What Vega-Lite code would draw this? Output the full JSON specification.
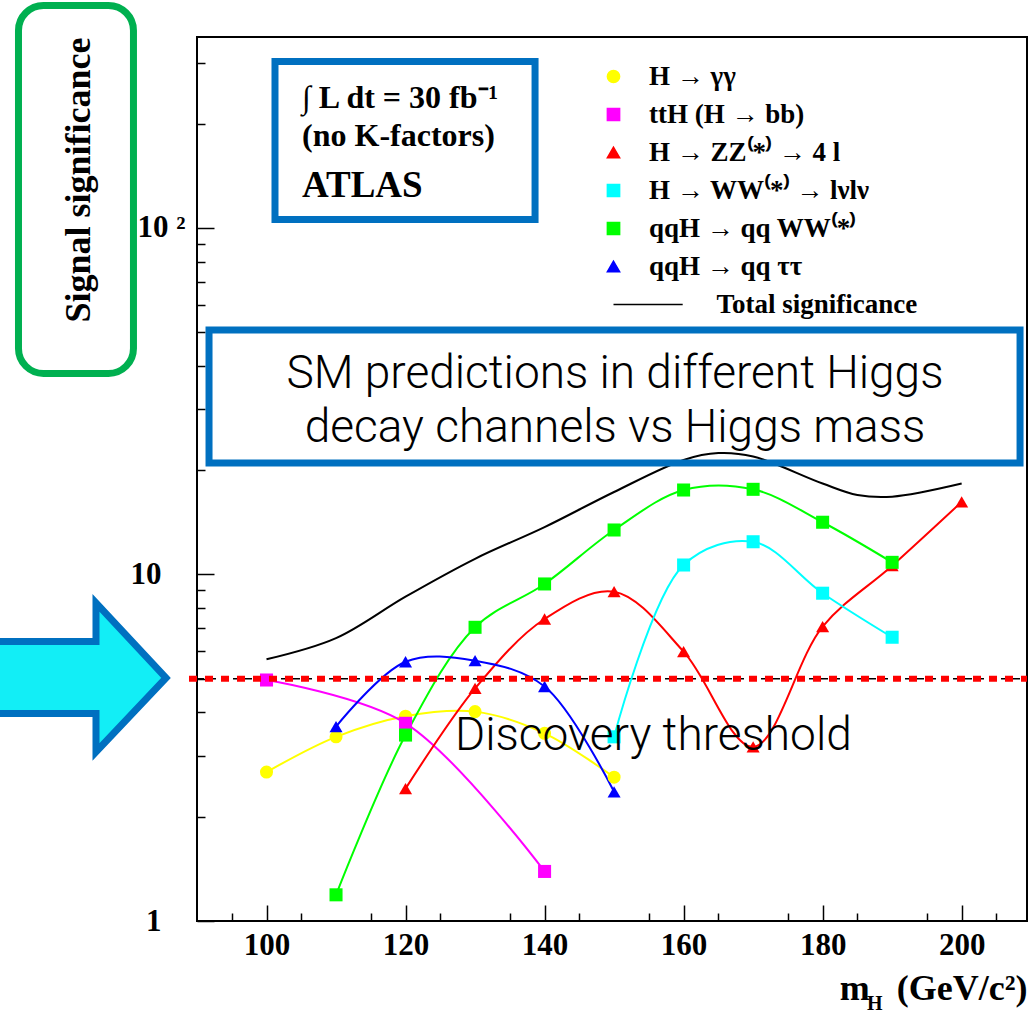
{
  "$schema": "https://vega.github.io/schema/vega-lite/v6.json",
  "autosize": {"type": "none"},
  "padding": {"left": 197, "top": 37, "right": 5, "bottom": 92},
  "width": 830,
  "height": 884,
  "background": "white",
  "config": {"view": {"stroke": "black", "strokeWidth": 2}, "font": "Liberation Serif"},
  "datasets": {
    "series": [
      {"channel": "H → γγ", "mass": 100, "sig": 2.69},
      {"channel": "H → γγ", "mass": 110, "sig": 3.40},
      {"channel": "H → γγ", "mass": 120, "sig": 3.90},
      {"channel": "H → γγ", "mass": 130, "sig": 4.02},
      {"channel": "H → γγ", "mass": 140, "sig": 3.48},
      {"channel": "H → γγ", "mass": 150, "sig": 2.60},
      {"channel": "ttH (H → bb)", "mass": 100, "sig": 4.96},
      {"channel": "ttH (H → bb)", "mass": 120, "sig": 3.72},
      {"channel": "ttH (H → bb)", "mass": 140, "sig": 1.39},
      {"channel": "H → ZZ⁽*⁾ → 4 l", "mass": 120, "sig": 2.41},
      {"channel": "H → ZZ⁽*⁾ → 4 l", "mass": 130, "sig": 4.69},
      {"channel": "H → ZZ⁽*⁾ → 4 l", "mass": 140, "sig": 7.44},
      {"channel": "H → ZZ⁽*⁾ → 4 l", "mass": 150, "sig": 8.92},
      {"channel": "H → ZZ⁽*⁾ → 4 l", "mass": 160, "sig": 5.99},
      {"channel": "H → ZZ⁽*⁾ → 4 l", "mass": 170, "sig": 3.18},
      {"channel": "H → ZZ⁽*⁾ → 4 l", "mass": 180, "sig": 7.07},
      {"channel": "H → ZZ⁽*⁾ → 4 l", "mass": 190, "sig": 10.6},
      {"channel": "H → ZZ⁽*⁾ → 4 l", "mass": 200, "sig": 16.2},
      {"channel": "H → WW⁽*⁾ → lνlν", "mass": 150, "sig": 3.40},
      {"channel": "H → WW⁽*⁾ → lνlν", "mass": 160, "sig": 10.65},
      {"channel": "H → WW⁽*⁾ → lνlν", "mass": 170, "sig": 12.43},
      {"channel": "H → WW⁽*⁾ → lνlν", "mass": 180, "sig": 8.83},
      {"channel": "H → WW⁽*⁾ → lνlν", "mass": 190, "sig": 6.59},
      {"channel": "qqH → qq WW⁽*⁾", "mass": 110, "sig": 1.19},
      {"channel": "qqH → qq WW⁽*⁾", "mass": 120, "sig": 3.44},
      {"channel": "qqH → qq WW⁽*⁾", "mass": 130, "sig": 7.04},
      {"channel": "qqH → qq WW⁽*⁾", "mass": 140, "sig": 9.39},
      {"channel": "qqH → qq WW⁽*⁾", "mass": 150, "sig": 13.44},
      {"channel": "qqH → qq WW⁽*⁾", "mass": 160, "sig": 17.53},
      {"channel": "qqH → qq WW⁽*⁾", "mass": 170, "sig": 17.61},
      {"channel": "qqH → qq WW⁽*⁾", "mass": 180, "sig": 14.15},
      {"channel": "qqH → qq WW⁽*⁾", "mass": 190, "sig": 10.84},
      {"channel": "qqH → qq ττ", "mass": 110, "sig": 3.64},
      {"channel": "qqH → qq ττ", "mass": 120, "sig": 5.60},
      {"channel": "qqH → qq ττ", "mass": 130, "sig": 5.64},
      {"channel": "qqH → qq ττ", "mass": 140, "sig": 4.75},
      {"channel": "qqH → qq ττ", "mass": 150, "sig": 2.36},
      {"channel": "Total significance", "mass": 100, "sig": 5.69},
      {"channel": "Total significance", "mass": 110, "sig": 6.55},
      {"channel": "Total significance", "mass": 120, "sig": 8.63},
      {"channel": "Total significance", "mass": 130, "sig": 11.1},
      {"channel": "Total significance", "mass": 140, "sig": 13.7},
      {"channel": "Total significance", "mass": 150, "sig": 17.3},
      {"channel": "Total significance", "mass": 160, "sig": 21.4},
      {"channel": "Total significance", "mass": 165, "sig": 22.4},
      {"channel": "Total significance", "mass": 170, "sig": 21.9},
      {"channel": "Total significance", "mass": 180, "sig": 18.3},
      {"channel": "Total significance", "mass": 185, "sig": 16.96},
      {"channel": "Total significance", "mass": 190, "sig": 16.77},
      {"channel": "Total significance", "mass": 200, "sig": 18.3}
    ],
    "threshold": [{"mass": 88.85, "mass_end": 209.4, "sig": 5}],
    "baseline5": [{"mass": 90, "mass_end": 209.4, "sig": 5}],
    "title_box": [{"mass": 64.32, "mass_end": 80.86, "sig": 438.8, "sig_end": 38.03}],
    "blue_boxes": [
      {"mass": 101.22, "mass_end": 138.63, "sig": 302.3, "sig_end": 105.8},
      {"mass": 91.73, "mass_end": 208.40, "sig": 50.76, "sig_end": 20.98}
    ],
    "arrow": [{"mass": 85.54, "sig": 5.03}],
    "atlas_text": [
      {"mass": 105.11, "sig": 221.9, "label": "∫ L dt = 30 fb⁻¹"},
      {"mass": 105.11, "sig": 172.5, "label": "(no K-factors)"}
    ],
    "atlas_title": [{"mass": 105.11, "sig": 122.9, "label": "ATLAS"}],
    "sm_text": [
      {"mass": 150.13, "sig": 34.52, "label": "SM predictions in different Higgs"},
      {"mass": 150.13, "sig": 24.12, "label": "decay channels vs Higgs mass"}
    ],
    "discovery": [{"mass": 127.12, "sig": 3.115, "label": "Discovery threshold"}],
    "subscript": [{"mass": 186.4, "sig": 0.553, "label": "H"}]
  },
  "layer": [
    {
      "data": {"name": "baseline5"},
      "mark": {"type": "rule", "color": "black", "strokeWidth": 1.5, "strokeDash": [7, 5]},
      "encoding": {
        "x": {"field": "mass", "type": "quantitative", "scale": {"domain": [90, 209.4], "nice": false, "zero": false}, "axis": null},
        "y": {"field": "sig", "type": "quantitative", "scale": {"type": "log", "domain": [1, 355.7], "nice": false}, "axis": null},
        "x2": {"field": "mass_end"}}
    },
    {
      "data": {"name": "series"},
      "mark": {"type": "line", "interpolate": "catmull-rom", "strokeWidth": 2},
      "encoding": {
        "x": {"field": "mass", "type": "quantitative", "scale": {"domain": [90, 209.4], "nice": false, "zero": false},
          "axis": {"orient": "bottom", "values": [100, 120, 140, 160, 180, 200], "format": "d", "tickSize": -16, "tickWidth": 1.5, "tickColor": "black", "domain": false, "grid": false,
            "labelFont": "Liberation Serif", "labelFontWeight": "bold", "labelFontSize": 31, "labelColor": "black", "labelPadding": 25, "labelFlush": false, "labelOverlap": false,
            "title": "m\u00a0\u00a0\u00a0(GeV/c²)", "titleFont": "Liberation Serif", "titleFontWeight": "bold", "titleFontSize": 36, "titleColor": "black", "titleAnchor": "end", "titlePadding": 11}},
        "y": {"field": "sig", "type": "quantitative", "scale": {"type": "log", "domain": [1, 355.7], "nice": false},
          "axis": {"orient": "left", "values": [1, 10, 100], "tickSize": -17, "tickWidth": 1.5, "tickColor": "black", "domain": false, "grid": false,
            "labelExpr": "datum.value >= 100 ? '10 ²' : (datum.value >= 10 ? '10' : '1')",
            "labelAlign": {"condition": {"test": "datum.value >= 100", "value": "center"}, "value": "right"},
            "labelBaseline": "middle",
            "labelFont": "Liberation Serif", "labelFontWeight": "bold", "labelFontSize": 31, "labelColor": "black", "labelPadding": 53, "labelFlush": false, "labelOverlap": false,
            "title": "Signal significance", "titleFont": "Liberation Serif", "titleFontWeight": "bold", "titleFontSize": 36, "titleColor": "black", "titleAnchor": "end", "titlePadding": 33}},
        "color": {"field": "channel", "type": "nominal",
          "scale": {"domain": ["H → γγ", "ttH (H → bb)", "H → ZZ⁽*⁾ → 4 l", "H → WW⁽*⁾ → lνlν", "qqH → qq WW⁽*⁾", "qqH → qq ττ", "Total significance"],
            "range": ["#FFFF00", "#FF00FF", "#FF0000", "#00FFFF", "#00FF00", "#0000FF", "#000000"]},
          "legend": {"title": null, "orient": "none", "legendX": 403, "legendY": 26, "padding": 0,
            "labelFont": "Liberation Serif", "labelFontWeight": "bold", "labelFontSize": 27, "labelColor": "black", "labelLimit": 500,
            "symbolSize": 150, "symbolOpacity": 1, "labelOffset": 22, "rowPadding": 10,
            "labelExpr": "datum.label == 'Total significance' ? '\u200b\u00a0\u00a0\u00a0\u00a0\u00a0\u00a0\u00a0\u00a0\u00a0\u00a0Total significance' : datum.label"}},
        "shape": {"field": "channel", "type": "nominal",
          "scale": {"domain": ["H → γγ", "ttH (H → bb)", "H → ZZ⁽*⁾ → 4 l", "H → WW⁽*⁾ → lνlν", "qqH → qq WW⁽*⁾", "qqH → qq ττ", "Total significance"],
            "range": ["circle", "square", "triangle-up", "square", "square", "triangle-up", "M0,0L11.3,0"]},
          "legend": {"title": null, "orient": "none", "legendX": 403, "legendY": 26, "padding": 0,
            "labelFont": "Liberation Serif", "labelFontWeight": "bold", "labelFontSize": 27, "labelColor": "black", "labelLimit": 500,
            "symbolSize": 150, "symbolOpacity": 1, "labelOffset": 22, "rowPadding": 10,
            "labelExpr": "datum.label == 'Total significance' ? '\u200b\u00a0\u00a0\u00a0\u00a0\u00a0\u00a0\u00a0\u00a0\u00a0\u00a0Total significance' : datum.label"}}
      }
    },
    {
      "data": {"name": "series"},
      "transform": [{"filter": "datum.channel != 'Total significance'"}],
      "mark": {"type": "point", "filled": true, "opacity": 1, "size": 170},
      "encoding": {
        "x": {"field": "mass", "type": "quantitative", "scale": {"domain": [90, 209.4], "nice": false, "zero": false},
          "axis": {"orient": "bottom", "values": [95, 105, 115, 125, 135, 145, 155, 165, 175, 185, 195, 205], "tickSize": -8, "tickWidth": 1.5, "tickColor": "black", "domain": false, "grid": false, "labels": false, "title": null}},
        "y": {"field": "sig", "type": "quantitative", "scale": {"type": "log", "domain": [1, 355.7], "nice": false},
          "axis": {"orient": "left", "values": [2, 3, 4, 5, 6, 7, 8, 9, 20, 30, 40, 50, 60, 70, 80, 90, 200, 300], "tickSize": -8, "tickWidth": 1.5, "tickColor": "black", "domain": false, "grid": false, "labels": false, "title": null}},
        "color": {"field": "channel", "type": "nominal",
          "scale": {"domain": ["H → γγ", "ttH (H → bb)", "H → ZZ⁽*⁾ → 4 l", "H → WW⁽*⁾ → lνlν", "qqH → qq WW⁽*⁾", "qqH → qq ττ", "Total significance"],
            "range": ["#FFFF00", "#FF00FF", "#FF0000", "#00FFFF", "#00FF00", "#0000FF", "#000000"]}},
        "shape": {"field": "channel", "type": "nominal",
          "scale": {"domain": ["H → γγ", "ttH (H → bb)", "H → ZZ⁽*⁾ → 4 l", "H → WW⁽*⁾ → lνlν", "qqH → qq WW⁽*⁾", "qqH → qq ττ", "Total significance"],
            "range": ["circle", "square", "triangle-up", "square", "square", "triangle-up", "M0,0L11.3,0"]}}
      }
    },
    {
      "data": {"name": "threshold"},
      "mark": {"type": "rule", "color": "#FF0000", "strokeWidth": 6, "strokeDash": [8, 8], "strokeCap": "butt"},
      "encoding": {
        "x": {"field": "mass", "type": "quantitative", "scale": {"domain": [90, 209.4], "nice": false, "zero": false}, "axis": null},
        "y": {"field": "sig", "type": "quantitative", "scale": {"type": "log", "domain": [1, 355.7], "nice": false}, "axis": null},
        "x2": {"field": "mass_end"}}
    },
    {
      "data": {"name": "title_box"},
      "mark": {"type": "rect", "filled": false, "stroke": "#00B050", "strokeWidth": 7, "cornerRadius": 25},
      "encoding": {
        "x": {"field": "mass", "type": "quantitative", "scale": {"domain": [90, 209.4], "nice": false, "zero": false}, "axis": null},
        "y": {"field": "sig", "type": "quantitative", "scale": {"type": "log", "domain": [1, 355.7], "nice": false}, "axis": null},
        "x2": {"field": "mass_end"}, "y2": {"field": "sig_end"}}
    },
    {
      "data": {"name": "blue_boxes"},
      "mark": {"type": "rect", "filled": false, "stroke": "#0070C0", "strokeWidth": 7},
      "encoding": {
        "x": {"field": "mass", "type": "quantitative", "scale": {"domain": [90, 209.4], "nice": false, "zero": false}, "axis": null},
        "y": {"field": "sig", "type": "quantitative", "scale": {"type": "log", "domain": [1, 355.7], "nice": false}, "axis": null},
        "x2": {"field": "mass_end"}, "y2": {"field": "sig_end"}}
    },
    {
      "data": {"name": "arrow"},
      "mark": {"type": "point", "shape": "M0,0L-7,-7.5L-7,-3.65L-22,-3.65L-22,3.55L-7,3.55L-7,7.4Z", "size": 400, "filled": true, "fill": "#12EEF6", "stroke": "#0070C0", "strokeWidth": 7, "strokeJoin": "miter", "opacity": 1},
      "encoding": {
        "x": {"field": "mass", "type": "quantitative", "scale": {"domain": [90, 209.4], "nice": false, "zero": false}, "axis": null},
        "y": {"field": "sig", "type": "quantitative", "scale": {"type": "log", "domain": [1, 355.7], "nice": false}, "axis": null}}
    },
    {
      "data": {"name": "atlas_text"},
      "mark": {"type": "text", "align": "left", "baseline": "alphabetic", "font": "Liberation Serif", "fontWeight": "bold", "fontSize": 32, "color": "black"},
      "encoding": {
        "x": {"field": "mass", "type": "quantitative", "scale": {"domain": [90, 209.4], "nice": false, "zero": false}, "axis": null},
        "y": {"field": "sig", "type": "quantitative", "scale": {"type": "log", "domain": [1, 355.7], "nice": false}, "axis": null},
        "text": {"field": "label"}}
    },
    {
      "data": {"name": "atlas_title"},
      "mark": {"type": "text", "align": "left", "baseline": "alphabetic", "font": "Liberation Serif", "fontWeight": "bold", "fontSize": 37, "color": "black"},
      "encoding": {
        "x": {"field": "mass", "type": "quantitative", "scale": {"domain": [90, 209.4], "nice": false, "zero": false}, "axis": null},
        "y": {"field": "sig", "type": "quantitative", "scale": {"type": "log", "domain": [1, 355.7], "nice": false}, "axis": null},
        "text": {"field": "label"}}
    },
    {
      "data": {"name": "sm_text"},
      "mark": {"type": "text", "align": "center", "baseline": "alphabetic", "font": "Roboto", "fontWeight": 300, "fontSize": 46, "color": "black"},
      "encoding": {
        "x": {"field": "mass", "type": "quantitative", "scale": {"domain": [90, 209.4], "nice": false, "zero": false}, "axis": null},
        "y": {"field": "sig", "type": "quantitative", "scale": {"type": "log", "domain": [1, 355.7], "nice": false}, "axis": null},
        "text": {"field": "label"}}
    },
    {
      "data": {"name": "discovery"},
      "mark": {"type": "text", "align": "left", "baseline": "alphabetic", "font": "Roboto", "fontWeight": 300, "fontSize": 46, "color": "black"},
      "encoding": {
        "x": {"field": "mass", "type": "quantitative", "scale": {"domain": [90, 209.4], "nice": false, "zero": false}, "axis": null},
        "y": {"field": "sig", "type": "quantitative", "scale": {"type": "log", "domain": [1, 355.7], "nice": false}, "axis": null},
        "text": {"field": "label"}}
    },
    {
      "data": {"name": "subscript"},
      "mark": {"type": "text", "align": "left", "baseline": "alphabetic", "font": "Liberation Serif", "fontWeight": "bold", "fontSize": 20, "color": "black"},
      "encoding": {
        "x": {"field": "mass", "type": "quantitative", "scale": {"domain": [90, 209.4], "nice": false, "zero": false}, "axis": null},
        "y": {"field": "sig", "type": "quantitative", "scale": {"type": "log", "domain": [1, 355.7], "nice": false}, "axis": null},
        "text": {"field": "label"}}
    }
  ],
  "resolve": {"axis": {"x": "independent", "y": "independent"}}
}
